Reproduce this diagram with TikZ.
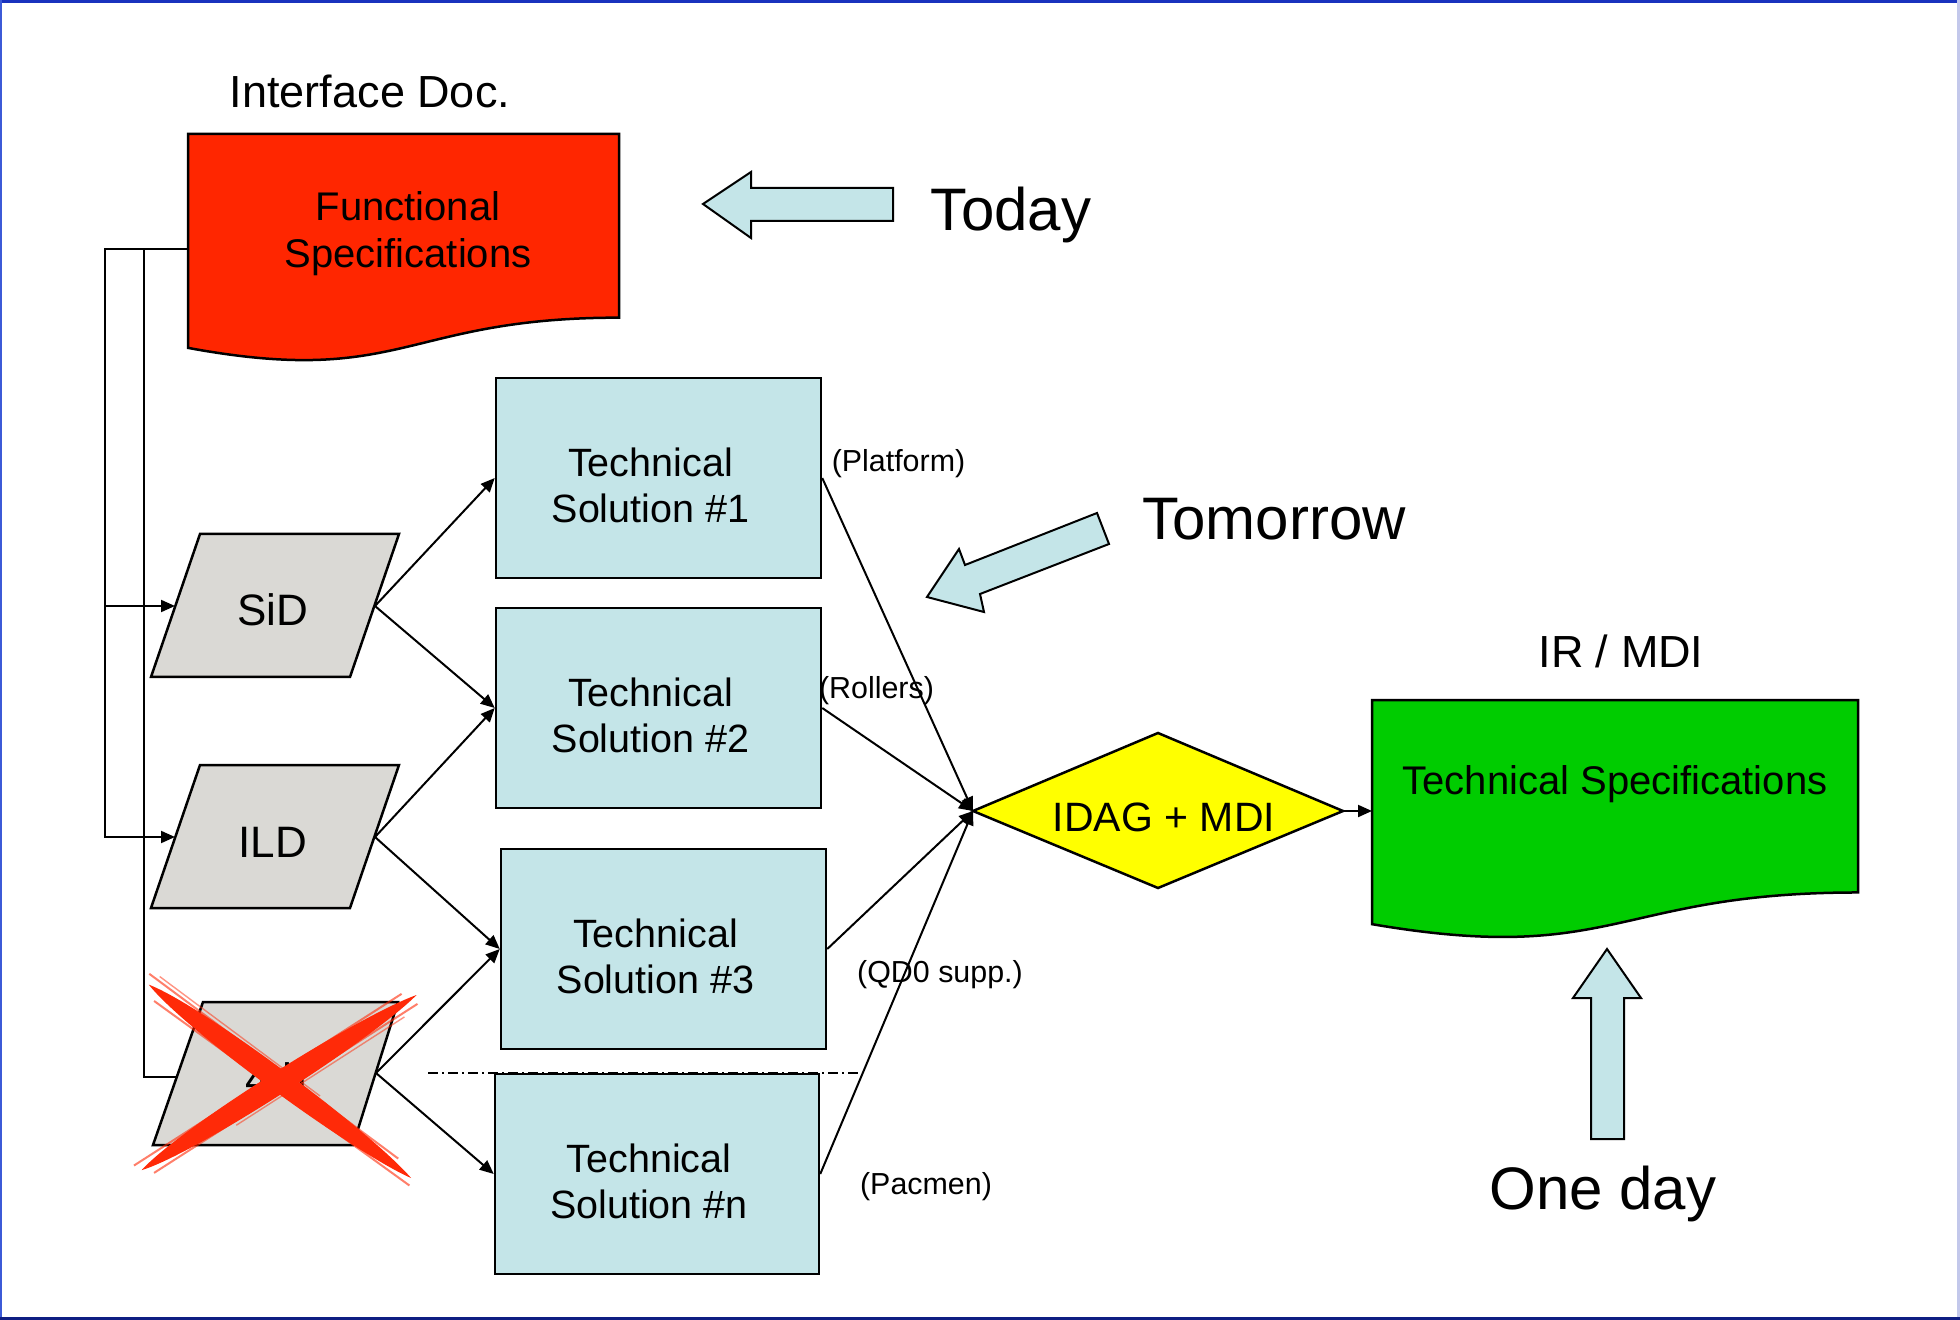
\documentclass[tikz,border=0pt]{standalone}
\usepackage{fontspec}
\setmainfont{Liberation Sans}
\usetikzlibrary{arrows.meta}
\definecolor{fsred}{RGB}{255,38,0}
\definecolor{tsblue}{RGB}{196,229,232}
\definecolor{pgrey}{RGB}{218,217,213}
\definecolor{idyellow}{RGB}{255,255,0}
\definecolor{tsgreen}{RGB}{0,204,0}
\definecolor{xred}{RGB}{255,42,8}
\definecolor{frtop}{RGB}{25,50,190}
\definecolor{frleft}{RGB}{60,90,215}
\definecolor{frbot}{RGB}{15,30,130}
\definecolor{frright}{RGB}{195,200,235}
\newcommand\mytopstrut{\rule{0pt}{21pt}}
\newcommand\docshape[5]{\draw[#1] (#2,#3) -- ({#2+#4},#3) -- ({#2+#4},{#3+0.802*#5}) .. controls ({#2+0.5*#4},{#3+0.802*#5}) and ({#2+0.5*#4},{#3+1.1075*#5}) .. (#2,{#3+0.934*#5}) -- cycle;}
\begin{document}
\begin{tikzpicture}[x=0.5pt,y=-0.5pt,
 conn/.style={draw=black,line width=1pt,-{Triangle[length=7pt,width=6pt]}},
 plainline/.style={draw=black,line width=1pt},
 tsbox/.style={draw=black,line width=1.25pt,fill=tsblue,minimum width=162.5pt,minimum height=100pt,inner sep=0pt},
 tstxt/.style={align=center,inner sep=0pt,font=\fontsize{19.75}{23}\selectfont},
 pgram/.style={draw=black,line width=1.25pt,fill=pgrey},
 docbox/.style={draw=black,line width=1.25pt},
 bigarrow/.style={draw=black,line width=1pt,fill=tsblue},
 bigtxt/.style={font=\fontsize{30}{36}\selectfont,anchor=base,inner sep=0pt},
 midtxt/.style={font=\fontsize{22.5}{27}\selectfont,anchor=base,inner sep=0pt},
 boxtxt/.style={font=\fontsize{20}{23.5}\selectfont,inner sep=0pt,align=center},
 smalltxt/.style={font=\fontsize{15.2}{18}\selectfont,anchor=base,inner sep=0pt},
 detxt/.style={font=\fontsize{22}{26}\selectfont,anchor=base,inner sep=0pt},
 xstroke/.style={fill=xred}
]
\useasboundingbox (0,0) rectangle (1960,1320);
\fill[white] (0,0) rectangle (1960,1320);
% frame
\draw[frtop,line width=1.5pt] (0,1.5) -- (1960,1.5);
\draw[frleft,line width=1pt] (1,0) -- (1,1320);
\draw[frright,line width=1.5pt] (1958.5,0) -- (1958.5,1320);
\draw[frbot,line width=1.5pt] (0,1318.5) -- (1960,1318.5);

% documents
\docshape{docbox,fill=fsred}{188}{134}{431}{229}
\node[boxtxt] (fstext) at (408,233.5) {Functional\\Specifications};
\node[midtxt] (ifdoc) at (370,108) {Interface Doc.};

\docshape{docbox,fill=tsgreen}{1372}{700}{486}{240}
\node[boxtxt,anchor=base] (tstext) at (1615,794) {Technical Specifications};
\node[midtxt] (irmdi) at (1621,668) {IR / MDI};

% big arrows
\draw[bigarrow] (703,204) -- (751,172) -- (751,188) -- (893,188) -- (893,221) -- (751,221) -- (751,238) -- cycle;
\node[bigtxt] (today) at (1011,231) {Today};
\draw[bigarrow] (927,597) -- (959,549) -- (965,565) -- (1097,513) -- (1109,544) -- (980,594) -- (984,612) -- cycle;
\node[bigtxt] (tomorrow) at (1274,540) {Tomorrow};
\draw[bigarrow] (1607,949) -- (1641,998) -- (1624,998) -- (1624,1139) -- (1591,1139) -- (1591,998) -- (1573,998) -- cycle;
\node[bigtxt] (oneday) at (1603,1209) {One day};

% parallelograms
\draw[pgram] (200,534) -- (399,534) -- (350,677) -- (151,677) -- cycle;
\node[detxt] (sid) at (273,626) {SiD};
\draw[pgram] (200,765) -- (399,765) -- (350,908) -- (151,908) -- cycle;
\node[detxt] (ild) at (273,857) {ILD};
\draw[pgram] (203,1002) -- (398,1002) -- (353,1145) -- (153,1145) -- cycle;
\node[detxt] (fourth) at (276,1094) {4th};

\coordinate (sidL) at (175,606);
\coordinate (sidR) at (375,606);
\coordinate (ildL) at (175,837);
\coordinate (ildR) at (375,837);
\coordinate (thL) at (177,1077);
\coordinate (thR) at (376,1073);

% technical solution boxes
\node[tsbox] (ts1) at (658.5,478) {};
\node[tsbox] (ts2) at (658.5,708) {};
\node[tsbox] (ts3) at (663.5,949) {};
\node[tsbox,minimum width=162pt] (tsn) at (657,1174) {};
\node[tstxt] (ts1t) at (650.5,485) {Technical\\Solution \#1};
\node[tstxt] (ts2t) at (650.5,715) {Technical\\Solution \#2};
\node[tstxt] (ts3t) at (655.5,956) {Technical\\Solution \#3};
\node[tstxt] (tsnt) at (649,1181) {Technical\\Solution \#n};

% left bracket connectors
\coordinate (fsL) at (188,249);
\coordinate (bo) at (105,249);
\coordinate (bs) at (105,606);
\coordinate (bi) at (144,249);
\draw[conn] (fsL) -- (bo) |- (ildL);
\draw[conn] (bs) -- (sidL);
\draw[plainline] (fsL) -- (bi) |- (thL);

% detector to solutions
\draw[conn] (sidR) -- (ts1.west);
\draw[conn] (sidR) -- (ts2.west);
\draw[conn] (ildR) -- (ts2.west);
\draw[conn] (ildR) -- (ts3.west);
\draw[conn] (thR) -- (ts3.west);
\draw[conn] (thR) -- (tsn.west);

% dash-dot separator
\coordinate (dd1) at (428,1073);
\coordinate (dd2) at (862,1073);
\draw[line width=1pt,dash pattern=on 5pt off 2pt on 1pt off 2pt] (dd1) -- (dd2);

% diamond
\coordinate (dl) at (973,811);
\coordinate (dt) at (1158,733);
\coordinate (dr) at (1343,811);
\coordinate (db) at (1158,888);
\draw[draw=black,line width=1.25pt,fill=idyellow] (dl) -- (dt) -- (dr) -- (db) -- cycle;
\node[font=\fontsize{20.5}{24}\selectfont,anchor=base,inner sep=0pt] (idag) at (1164,831) {IDAG + MDI};

\draw[conn] (ts1.east) -- (dl);
\draw[conn] (ts2.east) -- (dl);
\draw[conn] (ts3.east) -- (dl);
\draw[conn] (tsn.east) -- (dl);
\coordinate (tsdocL) at (1372,811);
\draw[conn] (dr) -- (tsdocL);

% small labels
\node[smalltxt] (lplat) at (898.5,472) {(Platform)};
\node[smalltxt] (lroll) at (876.5,698) {(Rollers)};
\node[smalltxt] (lqd0) at (940,982) {(QD0 supp.)};
\node[smalltxt] (lpac) at (926,1194) {(Pacmen)};

% red cross over the third concept
\begin{scope}[shift={(152,987)},rotate=-36.4]
 \fill[xred] (-4,0) .. controls (50,-15) and (260,-14) .. (322,0) .. controls (260,14) and (50,15) .. (-4,0);
 \draw[xred,line width=1pt,opacity=0.6] (-10,-9) -- (300,-8);
 \draw[xred,line width=1pt,opacity=0.6] (10,10) -- (325,7);
 \draw[xred,line width=0.7pt,opacity=0.5] (0,-13) -- (200,-12);
\end{scope}
\begin{scope}[shift={(145,1168)},rotate=32.5]
 \fill[xred] (-4,0) .. controls (50,-15) and (260,-14) .. (322,0) .. controls (260,14) and (50,15) .. (-4,0);
 \draw[xred,line width=1pt,opacity=0.6] (-8,-8) -- (310,-9);
 \draw[xred,line width=1pt,opacity=0.6] (5,9) -- (318,8);
 \draw[xred,line width=0.7pt,opacity=0.5] (100,13) -- (300,12);
\end{scope}
\end{tikzpicture}
\end{document}
